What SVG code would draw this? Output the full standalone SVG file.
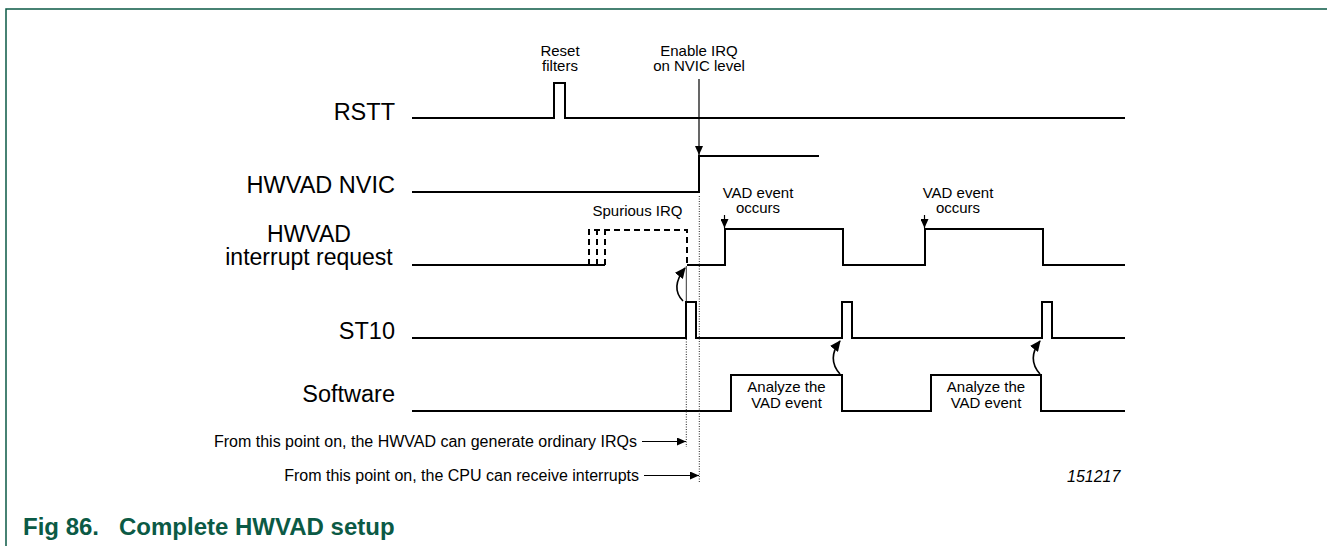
<svg xmlns="http://www.w3.org/2000/svg" width="1327" height="546" viewBox="0 0 1327 546">
<defs>
<style>
.sig{fill:none;stroke:#000;stroke-width:2;stroke-linejoin:miter;stroke-linecap:butt}
.dash{fill:none;stroke:#000;stroke-width:2;stroke-dasharray:6 4}
.lbl{font-family:"Liberation Sans",Arial,sans-serif;font-size:23.5px;fill:#000;text-anchor:end}
.lblc{font-family:"Liberation Sans",Arial,sans-serif;font-size:23px;fill:#000;text-anchor:middle}
.sm{font-family:"Liberation Sans",Arial,sans-serif;font-size:15px;fill:#000;text-anchor:middle}
.note{font-family:"Liberation Sans",Arial,sans-serif;font-size:16px;fill:#000;text-anchor:end}
.id{font-family:"Liberation Sans",Arial,sans-serif;font-size:16px;font-style:italic;fill:#000}
.cap{font-family:"Liberation Sans",Arial,sans-serif;font-size:24px;font-weight:bold;fill:#0b5a45}
.arr{fill:none;stroke:#000;stroke-width:1.2;marker-end:url(#ah)}
.curve{fill:none;stroke:#000;stroke-width:1.6;marker-end:url(#ahc)}
.dot{fill:none;stroke:#222;stroke-width:1;stroke-dasharray:1 1.5}
.thin{fill:none;stroke:#000;stroke-width:0.8}
</style>
<marker id="ah" markerUnits="userSpaceOnUse" markerWidth="9" markerHeight="8" refX="9" refY="4" orient="auto"><path d="M0,0 L9,4 L0,8 z" fill="#000"/></marker>
<marker id="ahc" markerUnits="userSpaceOnUse" markerWidth="11" markerHeight="10" refX="10" refY="5" orient="auto"><path d="M0,0 L11,5 L0,10 z" fill="#000"/></marker>
</defs>
<rect width="1327" height="546" fill="#fff"/>
<path d="M6,546 V9 H1327" fill="none" stroke="#0b5a45" stroke-width="1.5"/>

<g id="rstt">
<text class="lbl" x="395" y="120">RSTT</text>
<path class="sig" d="M412,118 H554 V83 H565 V118 H1125"/>
<text class="sm" x="560" y="56">Reset</text>
<text class="sm" x="560" y="71">filters</text>
</g>

<g id="hwvad-nvic">
<text class="lbl" x="395" y="193">HWVAD NVIC</text>
<path class="sig" d="M412,192 H699 V156 H819"/>
<text class="sm" x="699" y="56">Enable IRQ</text>
<text class="sm" x="699" y="71">on NVIC level</text>
</g>

<g id="hwvad-irq">
<text class="lblc" x="309" y="241.5">HWVAD</text>
<text class="lblc" x="309" y="265">interrupt request</text>
<path class="sig" d="M412,265 H605"/>
<path class="dash" d="M589,265 V230 H687 V265"/>
<path class="dash" d="M597,265 V230"/>
<path class="dash" d="M605,265 V230"/>
<path class="sig" d="M687,265 H725 V229 H843 V265 H925 V229 H1043 V265 H1125"/>
<text class="sm" x="637.5" y="216">Spurious IRQ</text>
<text class="sm" x="758" y="198">VAD event</text>
<text class="sm" x="758" y="213">occurs</text>
<text class="sm" x="958" y="198">VAD event</text>
<text class="sm" x="958" y="213">occurs</text>
</g>

<g id="st10">
<text class="lbl" x="395" y="339">ST10</text>
<path class="sig" d="M412,338 H686 V302 H696 V338 H842 V302 H852 V338 H1042 V302 H1052 V338 H1125"/>
</g>

<g id="software">
<text class="lbl" x="395" y="402">Software</text>
<path class="sig" d="M412,411 H731 V375 H842 V411 H931 V375 H1041 V411 H1125"/>
<text class="sm" x="786.5" y="391.5">Analyze the</text>
<text class="sm" x="786.5" y="407.5">VAD event</text>
<text class="sm" x="986" y="391.5">Analyze the</text>
<text class="sm" x="986" y="407.5">VAD event</text>
</g>

<g id="connectors">
<line class="arr" x1="699" y1="79" x2="699" y2="155"/>
<line class="arr" x1="724.5" y1="215" x2="724.5" y2="228"/>
<line class="arr" x1="924.5" y1="215" x2="924.5" y2="228"/>
<path class="curve" d="M683,301 C674,292 675,281 685,268"/>
<path class="curve" d="M840,374 C831,364 831,353 840,341"/>
<path class="curve" d="M1040,374 C1031,364 1031,353 1040,341"/>
<line class="thin" x1="686.3" y1="266" x2="686.3" y2="302"/>
<line class="dot" x1="686.3" y1="339" x2="686.3" y2="447"/>
<line class="dot" x1="699.3" y1="196" x2="699.3" y2="482"/>
<line class="arr" x1="642" y1="441.5" x2="686" y2="441.5"/>
<line class="arr" x1="644" y1="475.5" x2="699" y2="475.5"/>
</g>

<g id="notes">
<text class="note" x="637" y="447">From this point on, the HWVAD can generate ordinary IRQs</text>
<text class="note" x="639" y="481">From this point on, the CPU can receive interrupts</text>
<text class="id" x="1067" y="481.7">151217</text>
</g>

<g id="caption">
<text class="cap" x="23" y="535">Fig 86.</text>
<text class="cap" x="119" y="535">Complete HWVAD setup</text>
</g>
</svg>
